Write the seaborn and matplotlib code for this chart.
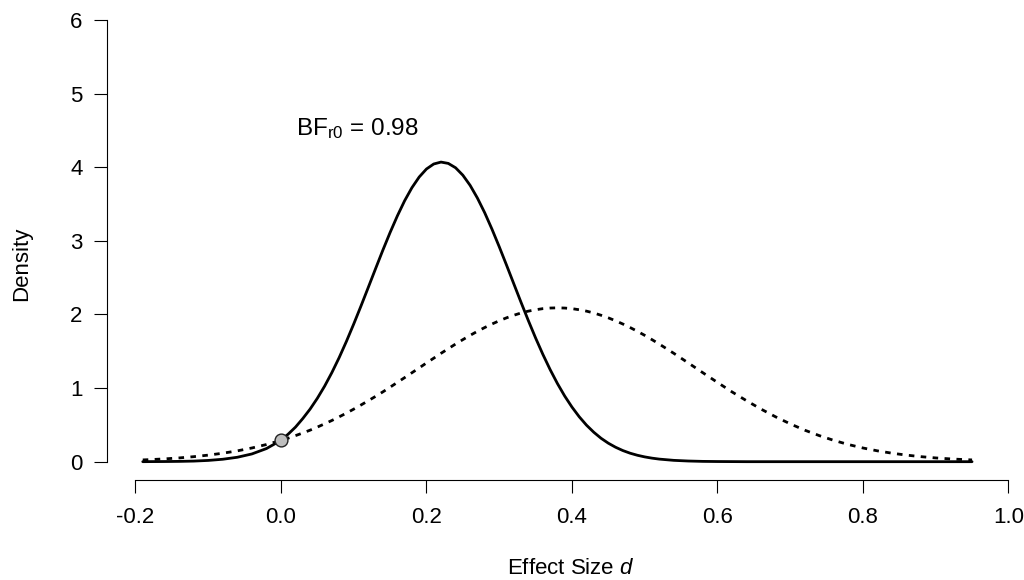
import pandas as pd
import seaborn as sns
import matplotlib.pyplot as plt

# values (finer steps where the curves bend)
effect_size = [-0.19, -0.18, -0.16, -0.14, -0.12, -0.10, -0.08, -0.06, -0.04, -0.02,
               0.00, 0.01, 0.02, 0.03, 0.04, 0.05, 0.06, 0.07, 0.08, 0.09,
               0.10, 0.11, 0.12, 0.13, 0.14, 0.15, 0.16, 0.17, 0.18, 0.19,
               0.20, 0.21, 0.22, 0.23, 0.24, 0.25, 0.26, 0.27, 0.28, 0.29,
               0.30, 0.31, 0.32, 0.33, 0.34, 0.35, 0.36, 0.37, 0.38, 0.39,
               0.40, 0.41, 0.42, 0.43, 0.44, 0.45, 0.46, 0.47, 0.48, 0.49,
               0.50, 0.51, 0.52,
               0.54, 0.56, 0.58, 0.60, 0.62, 0.64, 0.66, 0.68, 0.70, 0.72,
               0.74, 0.76, 0.78, 0.80, 0.82, 0.84, 0.86, 0.88, 0.90, 0.92,
               0.94, 0.95]
posterior = [0.000, 0.001, 0.002, 0.004, 0.008, 0.017, 0.033, 0.060, 0.105, 0.178,
             0.290, 0.375, 0.470, 0.586, 0.714, 0.861, 1.026, 1.211, 1.414, 1.635,
             1.870, 2.115, 2.367, 2.621, 2.872, 3.113, 3.339, 3.545, 3.722, 3.867,
             3.976, 4.044, 4.070, 4.052, 3.993, 3.892, 3.754, 3.582, 3.383, 3.160,
             2.921, 2.672, 2.418, 2.165, 1.918, 1.681, 1.458, 1.251, 1.062, 0.892,
             0.742, 0.610, 0.496, 0.400, 0.318, 0.251, 0.196, 0.151, 0.115, 0.087,
             0.065, 0.048, 0.035,
             0.018, 0.009, 0.004, 0.002, 0.001, 0.000, 0.000, 0.000, 0.000, 0.000,
             0.000, 0.000, 0.000, 0.000, 0.000, 0.000, 0.000, 0.000, 0.000, 0.000,
             0.000, 0.000]
prior = [0.024, 0.028, 0.038, 0.051, 0.068, 0.089, 0.115, 0.147, 0.186, 0.233,
         0.289, 0.320, 0.354, 0.390, 0.428, 0.470, 0.514, 0.560, 0.609, 0.660,
         0.714, 0.770, 0.828, 0.887, 0.948, 1.012, 1.077, 1.142, 1.208, 1.274,
         1.341, 1.406, 1.472, 1.535, 1.598, 1.658, 1.716, 1.771, 1.822, 1.870,
         1.914, 1.954, 1.989, 2.020, 2.045, 2.064, 2.079, 2.087, 2.090, 2.087,
         2.079, 2.064, 2.045, 2.020, 1.989, 1.954, 1.914, 1.870, 1.822, 1.771,
         1.716, 1.658, 1.598,
         1.472, 1.341, 1.208, 1.077, 0.948, 0.828, 0.714, 0.609, 0.514, 0.428,
         0.354, 0.289, 0.233, 0.186, 0.147, 0.115, 0.089, 0.068, 0.051, 0.038,
         0.028, 0.024]
point_d = [0.0]
point_density = [0.29]
x_ticks = [-0.2, 0.0, 0.2, 0.4, 0.6, 0.8, 1.0]
x_ticklabels = ['-0.2', '0.0', '0.2', '0.4', '0.6', '0.8', '1.0']
y_ticks = [0, 1, 2, 3, 4, 5, 6]
bf_label = 'BF$_{\\mathrm{r0}}$ = 0.98'

sns.set_style('ticks')
plt.rcParams['font.family'] = ['Liberation Sans', 'DejaVu Sans']
plt.rcParams['mathtext.fontset'] = 'custom'
plt.rcParams['mathtext.rm'] = 'Liberation Sans'
plt.rcParams['mathtext.it'] = 'Liberation Sans:italic'
plt.rcParams['text.color'] = 'black'
plt.rcParams['xtick.color'] = 'black'
plt.rcParams['ytick.color'] = 'black'

df = pd.DataFrame({'d': effect_size, 'posterior': posterior, 'prior': prior})

fig = plt.figure(figsize=(10.24, 5.8), dpi=100)
ax = fig.add_axes([0.1323, 0.2040, 0.8525, 0.7615])

sns.lineplot(data=df, x='d', y='posterior', color='black', lw=2.0, ax=ax, clip_on=False)
sns.lineplot(data=df, x='d', y='prior', color='black', lw=2.0, ax=ax, clip_on=False,
             linestyle=(0, (2.0, 2.3)), dash_capstyle='butt')
sns.scatterplot(x=point_d, y=point_density, s=85, color='#bebebe', edgecolor='#222222',
                linewidth=1.0, ax=ax, zorder=5, clip_on=False)

ax.text(0.105, 4.52, bf_label, fontsize=17.5, ha='center', va='center')

ax.set_xlim(-0.2, 1.0)
ax.set_ylim(0, 6)
ax.set_xticks(x_ticks)
ax.set_xticklabels(x_ticklabels)
ax.set_yticks(y_ticks)
ax.tick_params(axis='both', labelsize=16, length=9.5, width=0.8, color='black')
ax.tick_params(axis='x', pad=10)
ax.tick_params(axis='y', pad=8)

sns.despine(ax=ax)
ax.spines['left'].set_position(('outward', 20.5))
ax.spines['bottom'].set_position(('outward', 13.2))
ax.spines['left'].set_linewidth(0.8)
ax.spines['bottom'].set_linewidth(0.8)
ax.spines['left'].set_color('black')
ax.spines['bottom'].set_color('black')

ax.set_xlabel('')
ax.set_ylabel('')
fig.text(0.557, 0.02, 'Effect Size $\\mathit{d}$', fontsize=16, ha='center', va='center')
fig.text(0.021, 0.545, 'Density', fontsize=16, rotation=90, ha='center', va='center')

plt.savefig('out.png', dpi=100)
